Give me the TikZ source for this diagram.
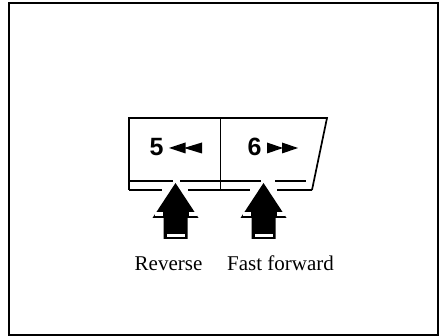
\documentclass[tikz,border=0pt]{standalone}
\usepackage{fontspec}
\setmainfont{Liberation Serif}
\setsansfont{Liberation Sans}

\begin{document}
\begin{tikzpicture}[x=1pt,y=-1pt,line join=miter]
    \useasboundingbox (0,0) rectangle (439,336);
    \draw[line width=1.2pt] (9,3) rectangle (438,335);
    % key block
    \coordinate (TL) at (129,118);
    \coordinate (TR) at (327,118);
    \coordinate (BR) at (312,190);
    \coordinate (BL) at (129,190);
    \draw[line width=1.7pt] (BL) -- (TL) -- (TR) -- (BR);
    \draw[line width=1.7pt] (BL) -- (162,190) (188,190) -- (250,190) (277,190) -- (BR);
    \draw[line width=1pt] (220,118) -- (220,190);
    \draw[line width=1.3pt] (129,181) -- (173,181) (180,181) -- (261,181) (275,181) -- (306,181);
    \node[anchor=base, font=\sffamily\bfseries\fontsize{25}{25}\selectfont, inner sep=0pt] (k5) at (156.5,156) {5};
    \node[anchor=base, font=\sffamily\bfseries\fontsize{25}{25}\selectfont, inner sep=0pt] (k6) at (254.5,156) {6};
    \fill (169,148) -- (185.5,142.5) -- (185.5,153.5) -- cycle;
    \fill (184,148) -- (202,142.5) -- (202,153.5) -- cycle;
    \fill (298,148) -- (282,142.5) -- (282,153.5) -- cycle;
    \fill (283,148) -- (267,142.5) -- (267,153.5) -- cycle;
    % arrows
    \foreach \c in {175.5,263.5} {
        \fill (\c,183) -- (\c+23,218) -- (\c+12,218) -- (\c+12,239) -- (\c-12,239) -- (\c-12,218) -- (\c-23,218) -- cycle;
        \fill[white] (\c-21,212.5) rectangle (\c-13,216);
        \fill[white] (\c+13,212.5) rectangle (\c+21,216);
        \fill[white] (\c-9,234) rectangle (\c+9,237.5);
    }
    \node[anchor=base, font=\fontsize{21}{25}\selectfont, inner sep=0pt] (rev) at (168.5,271) {Reverse};
    \node[anchor=base, font=\fontsize{21}{25}\selectfont, inner sep=0pt] (ff) at (280.5,271) {Fast forward};
\end{tikzpicture}
\end{document}
